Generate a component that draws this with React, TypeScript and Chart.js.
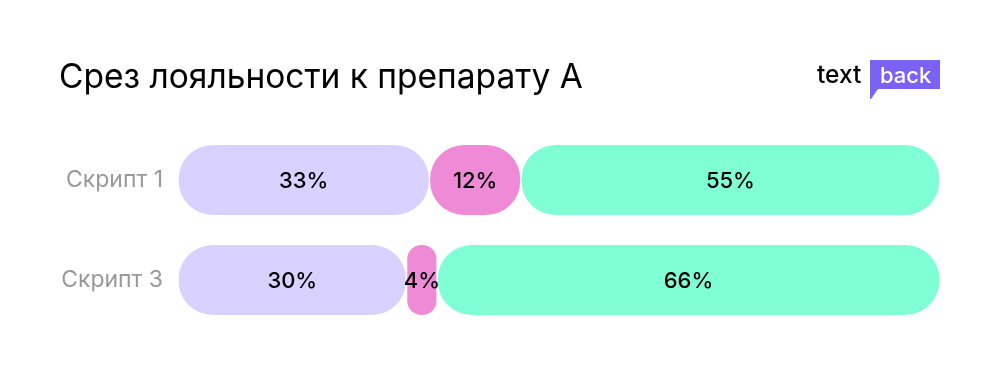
import React, { useEffect, useRef } from "react";
import { Chart, registerables } from "chart.js";

Chart.register(...registerables);

const categories = ["Скрипт 1", "Скрипт 3"];
const seriesA = [33, 30];
const seriesB = [12, 4];
const seriesC = [55, 66];
const colors = ["#D9D1FF", "#EF8BD6", "#80FFD5"];
const title = "Срез лояльности к препарату А";

const FONT = "Inter, 'Noto Sans', sans-serif";

const textPlugin = {
  id: "texts",
  afterDatasetsDraw(chart: any) {
    const ctx = chart.ctx;
    ctx.save();
    ctx.fillStyle = "#000";
    ctx.font = `500 22px ${FONT}`;
    ctx.textAlign = "center";
    ctx.textBaseline = "middle";
    chart.data.datasets.forEach((ds: any, di: number) => {
      const meta = chart.getDatasetMeta(di);
      meta.data.forEach((bar: any, i: number) => {
        const { x, y, base } = bar.getProps(["x", "y", "base"], true);
        ctx.fillText(ds.values[i] + "%", (x + base) / 2, y + 1);
      });
    });
    ctx.textAlign = "left";
    ctx.textBaseline = "alphabetic";
    ctx.font = `400 33.5px ${FONT}`;
    ctx.fillText(title, 59, 88);
    ctx.font = `500 24.5px ${FONT}`;
    ctx.fillStyle = "#000";
    ctx.fillText("text", 817, 83);
    ctx.fillStyle = "#7B62F6";
    ctx.beginPath();
    ctx.moveTo(870, 60);
    ctx.lineTo(940, 60);
    ctx.lineTo(940, 89);
    ctx.lineTo(878, 89);
    ctx.lineTo(871, 99);
    ctx.lineTo(870, 99);
    ctx.closePath();
    ctx.fill();
    ctx.fillStyle = "#fff";
    ctx.font = `500 22px ${FONT}`;
    ctx.fillText("back", 880, 83);
    ctx.restore();
  },
};

export default function App() {
  const ref = useRef<HTMLCanvasElement>(null);
  useEffect(() => {
    const series = [seriesA, seriesB, seriesC];
    const datasets = series.map((vals, si) => {
      const data = vals.map((v, i) => {
        let start = 0;
        for (let k = 0; k < si; k++) start += series[k][i];
        return [start, start + v];
      });
      return {
        label: "S" + si,
        data,
        values: vals,
        backgroundColor: colors[si],
        borderColor: "#ffffff",
        borderWidth: { left: 1, right: 1, top: 0, bottom: 0 },
        borderRadius: 35,
        borderSkipped: false,
        barThickness: 70,
        grouped: false,
      };
    });
    const chart = new Chart(ref.current!, {
      type: "bar",
      data: { labels: categories, datasets: datasets as any },
      options: {
        indexAxis: "y",
        animation: false,
        responsive: false,
        maintainAspectRatio: false,
        layout: { padding: { top: 130, bottom: 50, left: 0, right: 60 } },
        plugins: { legend: { display: false }, tooltip: { enabled: false }, title: { display: false } },
        scales: {
          x: { min: 0, max: 100, display: false },
          y: {
            grid: { display: false },
            border: { display: false },
            ticks: { color: "#999999", font: { family: FONT, size: 23 }, padding: 7 },
            afterFit(axis: any) {
              axis.width = 178;
            },
          },
        },
      },
      plugins: [textPlugin],
    });
    return () => chart.destroy();
  }, []);
  return (
    <div style={{ position: "fixed", left: 0, top: 0, width: 1000, height: 380, background: "#fff" }}>
      <canvas ref={ref} width={1000} height={380} style={{ width: 1000, height: 380 }} />
    </div>
  );
}
